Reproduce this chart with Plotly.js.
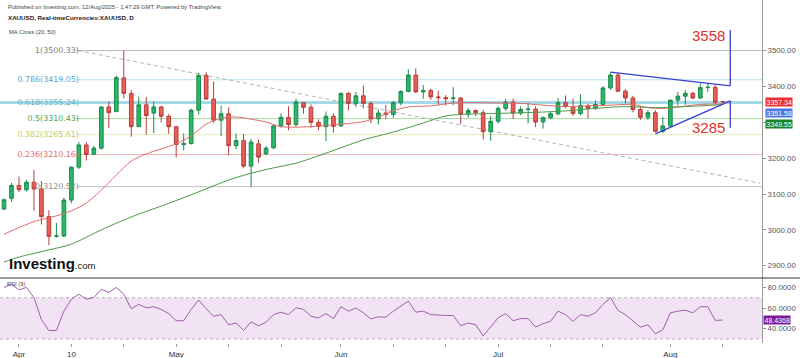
<!DOCTYPE html>
<html><head><meta charset="utf-8">
<script src="https://cdn.plot.ly/plotly-3.0.1.min.js"></script>
<style>html,body{margin:0;padding:0;background:#fff}#chart{width:800px;height:358px}</style>
</head><body><div id="chart"></div>
<script>
// ---- data ----
const dates = [
'2025-03-28','2025-03-31','2025-04-01','2025-04-02','2025-04-03','2025-04-04','2025-04-07','2025-04-08','2025-04-09','2025-04-10',
'2025-04-11','2025-04-14','2025-04-15','2025-04-16','2025-04-17','2025-04-21','2025-04-22','2025-04-23','2025-04-24','2025-04-25',
'2025-04-28','2025-04-29','2025-04-30','2025-05-01','2025-05-02','2025-05-05','2025-05-06','2025-05-07','2025-05-08','2025-05-09',
'2025-05-12','2025-05-13','2025-05-14','2025-05-15','2025-05-16','2025-05-19','2025-05-20','2025-05-21','2025-05-22','2025-05-23',
'2025-05-26','2025-05-27','2025-05-28','2025-05-29','2025-05-30','2025-06-02','2025-06-03','2025-06-04','2025-06-05','2025-06-06',
'2025-06-09','2025-06-10','2025-06-11','2025-06-12','2025-06-13','2025-06-16','2025-06-17','2025-06-18','2025-06-19','2025-06-20',
'2025-06-23','2025-06-24','2025-06-25','2025-06-26','2025-06-27','2025-06-30','2025-07-01','2025-07-02','2025-07-03','2025-07-04',
'2025-07-07','2025-07-08','2025-07-09','2025-07-10','2025-07-11','2025-07-14','2025-07-15','2025-07-16','2025-07-17','2025-07-18',
'2025-07-21','2025-07-22','2025-07-23','2025-07-24','2025-07-25','2025-07-28','2025-07-29','2025-07-30','2025-07-31','2025-08-01',
'2025-08-04','2025-08-05','2025-08-06','2025-08-07','2025-08-08','2025-08-11','2025-08-12'];

const open = [3058,3088,3124,3112,3133,3114,3037,2982,2983,3083,
3175,3237,3211,3228,3343,3330,3424,3381,3288,3349,
3326,3343,3317,3288,3238,3241,3334,3431,3365,3306,
3324,3235,3249,3178,3240,3212,3229,3290,3314,3294,
3355,3342,3300,3288,3317,3290,3381,3353,3374,3353,
3310,3326,3322,3355,3386,3432,3385,3389,3371,3369,
3367,3368,3323,3333,3327,3274,3303,3339,3357,3326,
3336,3337,3301,3313,3324,3355,3344,3325,3347,3339,
3350,3396,3432,3387,3368,3336,3314,3327,3275,3290,
3362,3373,3381,3368,3397,3398,3358];
const high = [3087,3131,3149,3139,3167,3136,3055,3019,3090,3176,
3245,3245,3234,3344,3358,3430,3500,3390,3372,3371,
3358,3346,3323,3290,3269,3338,3438,3440,3414,3346,
3342,3269,3268,3254,3252,3234,3293,3325,3345,3366,
3356,3350,3308,3330,3325,3383,3384,3385,3403,3357,
3336,3349,3360,3390,3448,3451,3404,3394,3388,3376,
3398,3370,3340,3336,3335,3318,3345,3365,3366,3345,
3355,3345,3317,3330,3368,3375,3366,3378,3352,3361,
3401,3440,3438,3393,3374,3345,3334,3334,3315,3363,
3385,3390,3385,3409,3410,3404,3360];
const low = [3055,3079,3105,3107,3054,3015,2957,2978,2979,3074,
3170,3194,3208,3224,3284,3329,3367,3260,3287,3265,
3270,3300,3268,3202,3222,3238,3321,3363,3298,3262,
3208,3225,3172,3120,3187,3208,3225,3285,3278,3287,
3324,3285,3278,3248,3271,3288,3333,3343,3339,3298,
3294,3309,3313,3347,3384,3382,3366,3363,3348,3347,
3348,3295,3313,3318,3252,3249,3297,3332,3309,3320,
3297,3287,3283,3309,3320,3339,3318,3320,3311,3335,
3350,3391,3384,3353,3328,3307,3307,3272,3270,3288,
3347,3349,3364,3365,3385,3349,3354];
const close = [3084,3124,3112,3133,3114,3037,2982,2983,3083,3175,
3237,3210,3228,3343,3327,3425,3381,3288,3349,3319,
3343,3317,3288,3238,3241,3334,3431,3365,3306,3324,
3235,3249,3178,3245,3203,3228,3290,3314,3294,3357,
3342,3300,3289,3317,3289,3381,3353,3374,3353,3310,
3326,3322,3355,3386,3432,3385,3389,3371,3369,3366,
3368,3323,3333,3327,3274,3303,3339,3357,3326,3336,
3337,3301,3313,3324,3355,3344,3325,3347,3339,3350,
3396,3432,3387,3368,3336,3314,3327,3275,3290,3362,
3373,3381,3368,3397,3398,3356,3357.34];

const ma20Dates = ['2025-03-28','2025-04-03','2025-04-08','2025-04-10','2025-04-14','2025-04-16','2025-04-21','2025-04-23','2025-04-25','2025-04-29',
'2025-05-01','2025-05-05','2025-05-07','2025-05-09','2025-05-13','2025-05-15','2025-05-19','2025-05-21','2025-05-27','2025-06-02',
'2025-06-05','2025-06-09','2025-06-11','2025-06-13','2025-06-18','2025-06-23','2025-06-26','2025-07-01','2025-07-04','2025-07-09',
'2025-07-14','2025-07-17','2025-07-22','2025-07-25','2025-07-29','2025-07-31','2025-08-04','2025-08-07','2025-08-12'];
const ma20 = [2988,3023,3039,3053,3075,3111,3153,3192,3212,3226,
3240,3262,3295,3312,3315,3309,3301,3288,3288,3295,
3302,3315,3332,3343,3346,3354,3355,3354,3353,3348,
3344,3346,3348,3350,3341,3339,3343,3350,3351.58];

const ma50Dates = ['2025-03-28','2025-04-01','2025-04-07','2025-04-10','2025-04-16','2025-04-23','2025-04-30','2025-05-06','2025-05-12','2025-05-15',
'2025-05-20','2025-05-23','2025-05-29','2025-06-05','2025-06-11','2025-06-17','2025-06-20','2025-06-25','2025-07-01','2025-07-08',
'2025-07-14','2025-07-18','2025-07-24','2025-07-30','2025-08-05','2025-08-12'];
const ma50 = [2910,2924,2944,2960,3000,3036,3074,3106,3139,3158,
3173,3186,3214,3251,3273,3298,3318,3323,3325,3328,
3332,3339,3344,3341,3344,3349.55];

const rsi = [80,83,77.6,80,70.2,48.8,38.3,38.3,57,68.5,
73.4,68.5,70.2,78.3,75.1,80,73.4,59.3,63.6,60.3,
61.3,58.7,54.7,47.8,47.8,58.7,67.8,59.3,52.1,53.7,
43.9,45.6,38.3,46.6,42.9,46.2,53.7,56,53.7,60.3,
58.7,52.1,50.5,54.7,49.8,61.3,57,60,55.4,49.5,
51.5,51.2,57,62,66.8,56,57,53.7,53.1,52.8,
52.8,42.9,45.6,43.9,33.1,41.6,50.5,54.7,47.8,49.8,
49.8,41.6,44.9,47.2,57,53.7,47.2,53.7,52.1,55.4,
63.6,70.2,57.7,53.7,47.2,41.6,43.9,35.1,39,55.4,
57,58,55.4,61.3,61.3,48.1,48.4368];

const fibRatios = ['1','0.786','0.618','0.5','0.382','0.236','0'];
const fibLevels = [3500.33,3419.05,3355.24,3310.43,3265.61,3210.16,3120.52];
const fibLabelColors = ['#7a7a7a','#4b9fd5','#5cb6c6','#3f9f46','#c3cd55','#df5f5f','#8a8a8a'];
const fibLineColors = ['#b8b8b8','#b9e0ee','#a6d9e8','#a8d6a8','#e5eab6','#f0b6b6','#c0c0c0'];

const xTickDates = ['2025-04-01','2025-04-10','2025-04-22','2025-05-01','2025-05-12','2025-05-21','2025-06-02','2025-06-11','2025-06-20','2025-07-01','2025-07-10','2025-07-21','2025-08-01','2025-08-12'];
const xTickText  = ['Apr','10','','May','','','Jun','','','Jul','','','Aug',''];
const priceTicks = [2900,3000,3100,3200,3300,3400,3500];
const priceTickText = ['2900.00','3000.00','3100.00','3200.00','','3400.00','3500.00']; // 3300 is hidden behind the price labels
const rsiTicks = [40,60,80];

// drawing tools (price levels / bar positions)
const trendStart = [9.9, 3500.33], trendEnd = [101.0, 3130];
const triUpper = [[81, 3440],[97, 3402]];
const triLower = [[87, 3268],[97, 3360]];
const targetHigh = 3558, targetLow = 3285;
const lastPrice = 3357.34, lastMa20 = 3351.58, lastMa50 = 3349.55, lastRsi = 48.4368;

// ---- layout helpers ----
const PH = 343; // plot area height in px
const py = p => (PH - p) / PH;
const px = p => p / 762;
const split = 0.1895;

const traces = [];
// fib labels (beneath candles)
traces.push({type:'scatter', mode:'text', x: fibLevels.map(()=>dates[10]), y: fibLevels,
  text: fibRatios.map((r,i)=> r + '(' + fibLevels[i].toFixed(2) + ')'),
  textposition:'middle left', textfont:{family:'DejaVu Sans, Verdana, sans-serif', size:7.9, color: fibLabelColors},
  hoverinfo:'skip', xaxis:'x', yaxis:'y', cliponaxis:false});
traces.push({type:'candlestick', x: dates, open, high, low, close, xaxis:'x', yaxis:'y',
  increasing:{line:{color:'#1f8a4c', width:1}, fillcolor:'#27b96a'},
  decreasing:{line:{color:'#b2403b', width:1}, fillcolor:'#ec5d57'},
  whiskerwidth:0, hoverinfo:'skip'});
traces.push({type:'scatter', mode:'lines', x: ma20Dates, y: ma20, line:{color:'#e46a6a', width:1, shape:'spline', smoothing:0.8}, hoverinfo:'skip'});
traces.push({type:'scatter', mode:'lines', x: ma50Dates, y: ma50, line:{color:'#4c9a45', width:1, shape:'spline', smoothing:0.8}, hoverinfo:'skip'});
traces.push({type:'scatter', mode:'lines', x: dates, y: rsi, xaxis:'x', yaxis:'y2', line:{color:'#a45cb0', width:1}, hoverinfo:'skip'});

const shapes = [];
fibLevels.forEach((lv,i)=>{
  shapes.push({type:'line', layer:'below', xref:'x', yref:'y', x0: i===2 ? -0.6 : 9.6, x1: 101.3, y0: lv, y1: lv,
    line:{color: fibLineColors[i], width: i===2 ? 3 : 1}});
});
shapes.push({type:'line', layer:'below', xref:'x', yref:'y', x0: trendStart[0], y0: trendStart[1], x1: trendEnd[0], y1: trendEnd[1],
  line:{color:'#b5b5b5', width:1, dash:'4px,3px'}});
// RSI band
shapes.push({type:'rect', layer:'below', xref:'paper', yref:'y2', x0:0, x1:1, y0:30, y1:70, fillcolor:'#f1e3f3', line:{width:0}});
[70,30].forEach(v=>shapes.push({type:'line', layer:'below', xref:'paper', yref:'y2', x0:0, x1:1, y0:v, y1:v, line:{color:'#b9b0bb', width:1, dash:'3px,3px'}}));
// pane separator
shapes.push({type:'line', xref:'paper', yref:'paper', x0:0, x1:1.05, y0:split, y1:split, line:{color:'#333', width:1}});
// triangle + projections
const blue = '#3a3fd0';
shapes.push({type:'line', xref:'x', yref:'y', x0:triUpper[0][0], y0:triUpper[0][1], x1:triUpper[1][0], y1:triUpper[1][1], line:{color:blue, width:1.3}});
shapes.push({type:'line', xref:'x', yref:'y', x0:triLower[0][0], y0:triLower[0][1], x1:triLower[1][0], y1:triLower[1][1], line:{color:blue, width:1.3}});
shapes.push({type:'line', xref:'x', yref:'y', x0:triUpper[1][0], y0:triUpper[1][1], x1:triUpper[1][0], y1:targetHigh, line:{color:blue, width:1.3}});
shapes.push({type:'line', xref:'x', yref:'y', x0:triLower[1][0], y0:triLower[1][1], x1:triLower[1][0], y1:targetLow, line:{color:blue, width:1.3}});

const hdrFont = {family:'Liberation Sans, Arial, sans-serif', size:5.8, color:'#444'};
const lblFont = {family:'Liberation Sans, Arial, sans-serif', size:7, color:'#fff'};
const annotations = [
  {xref:'paper', yref:'paper', x:px(6), y:py(7), xanchor:'left', yanchor:'middle', showarrow:false, text:'Published on Investing.com, 12/Aug/2025 - 1:47:29 GMT, Powered by TradingView.', font:hdrFont},
  {xref:'paper', yref:'paper', x:px(6), y:py(17), xanchor:'left', yanchor:'middle', showarrow:false, text:'<b>XAUUSD, Real-timeCurrencies:XAUUSD, D</b>', font:{family:'Liberation Sans, Arial, sans-serif', size:6.2, color:'#222'}},
  {xref:'paper', yref:'paper', x:px(7), y:py(32), xanchor:'left', yanchor:'middle', showarrow:false, text:'MA Cross (20, 50)', font:hdrFont},
  {xref:'paper', yref:'paper', x:px(5), y:py(284), xanchor:'left', yanchor:'middle', showarrow:false, text:'RSI (9)', font:hdrFont},
  {xref:'paper', yref:'paper', x:px(7), y:py(263), xanchor:'left', yanchor:'middle', showarrow:false,
   text:'<b>Investing</b><span style="font-size:9.5px">.com</span>', font:{family:'Liberation Sans, Arial, sans-serif', size:15, color:'#111'}},
  {xref:'x', yref:'y', x:97, y:targetHigh, xanchor:'right', yanchor:'middle', yshift:-6, xshift:-3, showarrow:false, text:String(targetHigh), font:{family:'Liberation Sans, Arial, sans-serif', size:15, color:'#e0312d'}},
  {xref:'x', yref:'y', x:97, y:targetLow, xanchor:'right', yanchor:'middle', xshift:-3, showarrow:false, text:String(targetLow), font:{family:'Liberation Sans, Arial, sans-serif', size:15, color:'#e0312d'}},
  {xref:'paper', yref:'y', x:1, y:lastPrice, xanchor:'left', yanchor:'middle', xshift:3, showarrow:false, text:lastPrice.toFixed(2), bgcolor:'#ee2f2f', borderpad:0.5, font:lblFont},
  {xref:'paper', yref:'y', x:1, y:lastPrice, xanchor:'left', yanchor:'middle', xshift:3, yshift:-11, showarrow:false, text:lastMa20.toFixed(2), bgcolor:'#4f78e6', borderpad:0.5, font:lblFont},
  {xref:'paper', yref:'y', x:1, y:lastPrice, xanchor:'left', yanchor:'middle', xshift:3, yshift:-22, showarrow:false, text:lastMa50.toFixed(2), bgcolor:'#17852a', borderpad:0.5, font:lblFont},
  {xref:'paper', yref:'y2', x:1, y:lastRsi, xanchor:'left', yanchor:'middle', xshift:1, showarrow:false, text:lastRsi.toFixed(4), bgcolor:'#7d1a9c', borderpad:0.5, font:lblFont}
];

const tickFont = {family:'Liberation Sans, Arial, sans-serif', size:7.8, color:'#555'};
const layout = {
  width:800, height:358, margin:{l:0, r:38, t:0, b:15},
  paper_bgcolor:'#ffffff', plot_bgcolor:'#ffffff', showlegend:false, hovermode:false,
  xaxis:{type:'category', categoryorder:'array', categoryarray:dates, range:[-0.534,101.24], anchor:'y2',
    rangeslider:{visible:false}, showgrid:false, zeroline:false, showline:false,
    tickmode:'array', tickvals:xTickDates, ticktext:xTickText, ticks:'outside', ticklen:3, tickcolor:'#999',
    tickfont:{family:'Liberation Sans, Arial, sans-serif', size:8, color:'#333'}},
  yaxis:{domain:[split,1], range:[2865.6,3641.5], side:'right', showgrid:false, zeroline:false,
    tickmode:'array', tickvals:priceTicks, ticktext:priceTickText,
    ticks:'outside', ticklen:3, tickcolor:'#999', showline:true, linecolor:'#9a9a9a', linewidth:1, tickfont:tickFont},
  yaxis2:{domain:[0,split], range:[26.2,89.1], side:'right', anchor:'x', showgrid:false, zeroline:false,
    tickmode:'array', tickvals:rsiTicks, ticktext:rsiTicks.map(v=>v.toFixed(4)),
    ticks:'outside', ticklen:3, tickcolor:'#999', showline:true, linecolor:'#9a9a9a', linewidth:1, tickfont:tickFont},
  shapes, annotations
};
Plotly.newPlot('chart', traces, layout, {staticPlot:true, displayModeBar:false});
</script>
</body></html>
